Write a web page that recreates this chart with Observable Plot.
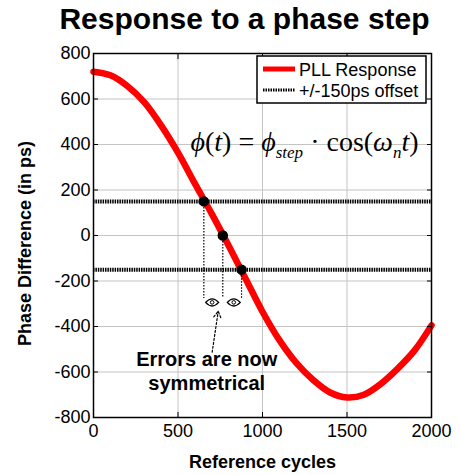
<!DOCTYPE html>
<html><head><meta charset="utf-8">
<script src="https://cdn.jsdelivr.net/npm/d3@7"></script>
<script src="https://cdn.jsdelivr.net/npm/@observablehq/plot@0.6"></script>
<style>
body{margin:0;background:white;}
#wrap{position:relative;width:460px;height:475px;font-family:Arial,"Liberation Sans",sans-serif;}
#legend{position:absolute;left:256px;top:55px;}
</style>
</head><body>
<div id="wrap"><div id="chart"></div>
<svg id="legend" width="172" height="50">
  <rect x="1" y="1" width="169" height="47" fill="white" stroke="black" stroke-width="1.5"></rect>
  <line x1="7" x2="39" y1="14" y2="14" stroke="red" stroke-width="5"></line>
  <text x="43" y="20.5" font-size="18" font-family="Arial, 'Liberation Sans', sans-serif">PLL Response</text>
  <line x1="7" x2="39" y1="35" y2="35" stroke="black" stroke-width="3" stroke-dasharray="1.5,1"></line>
  <text x="43" y="41.5" font-size="18" font-family="Arial, 'Liberation Sans', sans-serif">+/-150ps offset</text>
</svg>
</div>
<script>
// ---- data ----
const cycles = [0,100,200,300,400,500,600,700,800,900,1000,1100,1200,1300,1400,1500,1600,1700,1800,1900,2000];
const phase  = [720,704,657,586,484,364,228,95,-45,-190,-335,-460,-560,-635,-690,-712,-700,-652,-585,-505,-395];
const offsets = [150,-150];
const crossX = [653,765,876];
const crossY = [150,0,-150];
const dropTo = -277;
const eyeX = [702,830];
const eyeY = [-294,-294];
const arrowFrom = [702,-513];
const arrowTo = [738,-333];
const noteLines = ["Errors are now","symmetrical"];
const noteX = 670;
const noteY = [-545,-650];
const formulaPos = [574,372];
const xTicks = [0,500,1000,1500,2000];
const yTicks = [-800,-600,-400,-200,0,200,400,600,800];
const titleText = "Response to a phase step";
const xLabel = "Reference cycles";
const yLabel = "Phase Difference (in ps)";

const curve = cycles.map((c,i)=>({x:c,y:phase[i]}));
const cross = crossX.map((c,i)=>({x:c,y:crossY[i]}));
const eyes = eyeX.map((c,i)=>({x:c,y:eyeY[i]}));
const notes = noteLines.map((t,i)=>({t,x:noteX,y:noteY[i]}));

const eyeSymbol = {
  draw(ctx, size){
    const w = 6.5, h = 3.6;
    ctx.moveTo(-w,0);
    ctx.quadraticCurveTo(0,-2*h,w,0);
    ctx.quadraticCurveTo(0,2*h,-w,0);
    ctx.closePath();
  }
};

const font = "Arial, 'Liberation Sans', sans-serif";
const chart = Plot.plot({
  width:460, height:475,
  marginLeft:93, marginRight:29, marginTop:53, marginBottom:58,
  x:{domain:[0,2000]},
  y:{domain:[-800,800]},
  style:{fontFamily:font, fontSize:"18px", color:"black", background:"white", overflow:"visible"},
  marks:[
    Plot.gridX(xTicks,{stroke:"#c4c4c4", strokeOpacity:1, strokeWidth:1}),
    Plot.gridY(yTicks,{stroke:"#c4c4c4", strokeOpacity:1, strokeWidth:1}),
    Plot.ruleY(offsets,{stroke:"black", strokeWidth:4, strokeDasharray:"1.5,0.9"}),
    Plot.line(curve,{x:"x", y:"y", stroke:"#ff0000", strokeWidth:6.5, curve:"catmull-rom"}),
    Plot.ruleX(cross,{x:"x", y1:"y", y2:()=>dropTo, stroke:"black", strokeWidth:1.2, strokeDasharray:"1.5,1.5"}),
    Plot.dot(cross,{x:"x", y:"y", r:4.5, fill:"black", stroke:"black"}),
    Plot.dot(eyes,{x:"x", y:"y", symbol:eyeSymbol, r:4, fill:"white", stroke:"black", strokeWidth:1.3}),
    Plot.dot(eyes,{x:"x", y:"y", r:1.8, fill:"white", stroke:"black", strokeWidth:1}),
    Plot.arrow([{x1:arrowFrom[0],y1:arrowFrom[1],x2:arrowTo[0],y2:arrowTo[1]}],{x1:"x1",y1:"y1",x2:"x2",y2:"y2", stroke:"black", strokeWidth:1.2, strokeDasharray:"2,2", headLength:9, bend:0}),
    Plot.text(notes,{x:"x", y:"y", text:"t", fontSize:20, fontWeight:"bold", textAnchor:"middle", lineAnchor:"middle", fill:"black"}),
    Plot.text(["formula"],{x:()=>formulaPos[0], y:()=>formulaPos[1], text:d=>d, textAnchor:"start", lineAnchor:"bottom", className:"formula", fontSize:28, fontFamily:"'Liberation Serif','Times New Roman',serif"}),
    Plot.frame({stroke:"black", strokeWidth:1.5}),
    Plot.axisX(xTicks,{tickSize:-5, tickPadding:12, tickFormat:d=>String(d), label:null, fontSize:18}),
    Plot.axisX(xTicks,{anchor:"top", tickSize:-5, tickFormat:()=>"", label:null}),
    Plot.axisY(yTicks,{tickSize:-5, tickPadding:8, tickFormat:d=>String(d), label:null, fontSize:18}),
    Plot.axisY(yTicks,{anchor:"right", tickSize:-5, tickFormat:()=>"", label:null}),
    Plot.text([titleText],{frameAnchor:"top", dx:-18, dy:-25, lineAnchor:"bottom", fontSize:30, fontWeight:"bold", text:d=>d}),
    Plot.text([xLabel],{frameAnchor:"bottom", dy:45, lineAnchor:"middle", fontSize:18, fontWeight:"bold", text:d=>d}),
    Plot.text([yLabel],{frameAnchor:"left", dx:-68, dy:8, rotate:-90, lineAnchor:"middle", textAnchor:"middle", fontSize:18, fontWeight:"bold", text:d=>d})
  ]
});
document.getElementById("chart").appendChild(chart);

// build formula with subscript styling
d3.select(chart).selectAll(".formula text").each(function(){
  const t = d3.select(this);
  t.text(null);
  const parts = [
    {s:"\u03D5", i:true},{s:"(", i:false},{s:"t", i:true},{s:")", i:false},{s:" = ", i:false},
    {s:"\u03D5", i:true},{s:"step", i:true, sub:true},{s:" \u00B7 cos(", i:false, back:true},
    {s:"\u03C9", i:true},{s:"n", i:true, sub:true},{s:"t", i:true, back:true},{s:")", i:false}
  ];
  parts.forEach(p=>{
    const ts = t.append("tspan").text(p.s).attr("font-style", p.i ? "italic" : "normal");
    if (p.sub) ts.attr("font-size", 17).attr("dy", 7);
    if (p.back) ts.attr("dy", -7);
  });
});
</script>
</body></html>
